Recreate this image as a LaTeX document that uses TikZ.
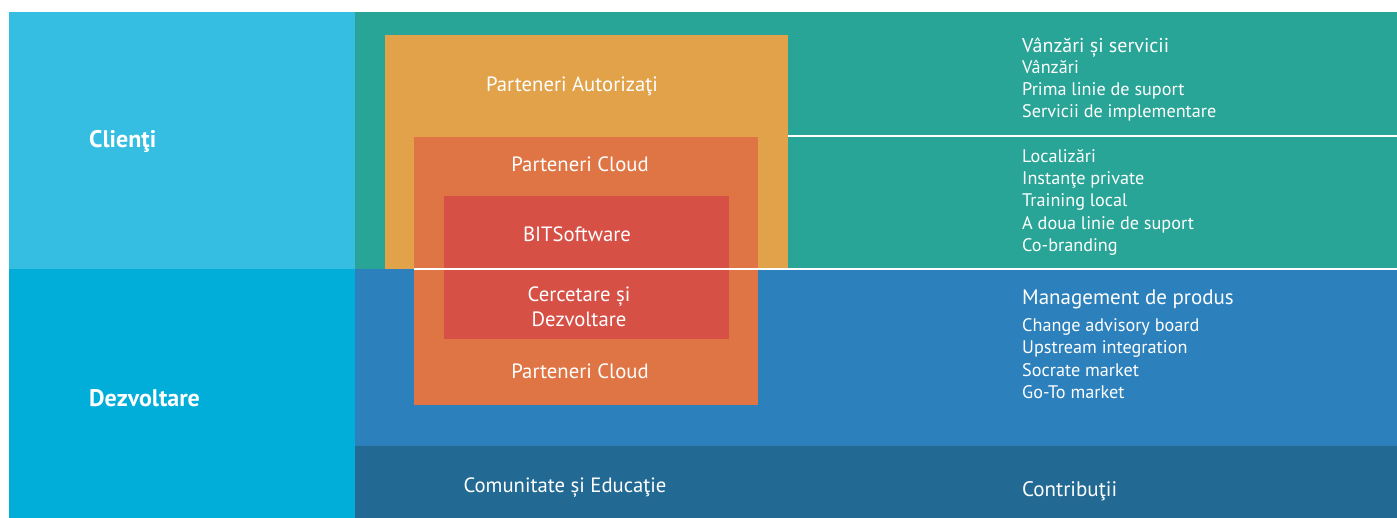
\documentclass[tikz,border=0pt]{standalone}
\usepackage{fontspec}
\setmainfont{PT Sans}
\definecolor{cliblue}{HTML}{35BDE2}
\definecolor{devcyan}{HTML}{00AED9}
\definecolor{teal}{HTML}{28A596}
\definecolor{midblue}{HTML}{2C80BC}
\definecolor{darkblue}{HTML}{226A93}
\definecolor{gold}{HTML}{E2A24A}
\definecolor{coral}{HTML}{DF7545}
\definecolor{brick}{HTML}{D65046}
\begin{document}
\begin{tikzpicture}[x=1pt,y=-1pt,
  lbl/.style={text=white,inner sep=0pt},
  item/.style={lbl,anchor=base west,font=\fontsize{18.2}{20}\selectfont},
  head/.style={lbl,anchor=base west,font=\fontsize{21}{23}\selectfont},
  boxl/.style={lbl,anchor=base,font=\fontsize{20.7}{22}\selectfont},
  side/.style={lbl,anchor=base west,font=\bfseries\fontsize{24}{26}\selectfont},
  sep/.style={white,line width=2.5pt}]
\useasboundingbox (0,0) rectangle (1397,518);
% backgrounds
\fill[cliblue] (9,12) rectangle (355,269);
\fill[devcyan] (9,269) rectangle (355,518);
\fill[teal] (355,12) rectangle (1397,269);
\fill[midblue] (355,269) rectangle (1397,446);
\fill[darkblue] (355,446) rectangle (1397,518);
% nested boxes
\fill[gold] (385,35) rectangle (788,269);
\fill[coral] (414,137) rectangle (758,405);
\fill[brick] (444,196) rectangle (729,339);
% separators
\coordinate (s1a) at (788,136);
\coordinate (s1b) at (1397,136);
\coordinate (s2a) at (414,269);
\coordinate (s2b) at (1397,269);
\draw[sep] (s1a) -- (s1b);
\draw[sep] (s2a) -- (s2b);
% left labels
\node[side] (cli) at (89,148) {Clienţi};
\node[side] (dev) at (89,406) {Dezvoltare};
% box labels
\node[boxl] (pa) at (572,92) {Parteneri Autorizaţi};
\node[boxl] (pc1) at (580,172) {Parteneri Cloud};
\node[boxl] (bit) at (577,242) {BITSoftware};
\node[boxl] (cd1) at (579,302) {Cercetare și};
\node[boxl] (cd2) at (579,327) {Dezvoltare};
\node[boxl] (pc2) at (580,378) {Parteneri Cloud};
\node[boxl] (ce) at (565,492) {Comunitate și Educaţie};
% right column
\node[head,font=\fontsize{20}{22}\selectfont] (vs) at (1022,53) {Vânzări și servicii};
\node[item] (r1) at (1022,74) {Vânzări};
\node[item] (r2) at (1022,96) {Prima linie de suport};
\node[item] (r3) at (1022,118) {Servicii de implementare};
\node[item] (r4) at (1022,163) {Localizări};
\node[item] (r5) at (1022,185) {Instanţe private};
\node[item] (r6) at (1022,207) {Training local};
\node[item] (r7) at (1022,230) {A doua linie de suport};
\node[item] (r8) at (1022,252) {Co-branding};
\node[head] (mp) at (1022,305) {Management de produs};
\node[item] (m1) at (1022,332) {Change advisory board};
\node[item] (m2) at (1022,354) {Upstream integration};
\node[item] (m3) at (1022,377) {Socrate market};
\node[item] (m4) at (1022,398) {Go-To market};
\node[head] (co) at (1022,496) {Contribuţii};
\end{tikzpicture}
\end{document}
